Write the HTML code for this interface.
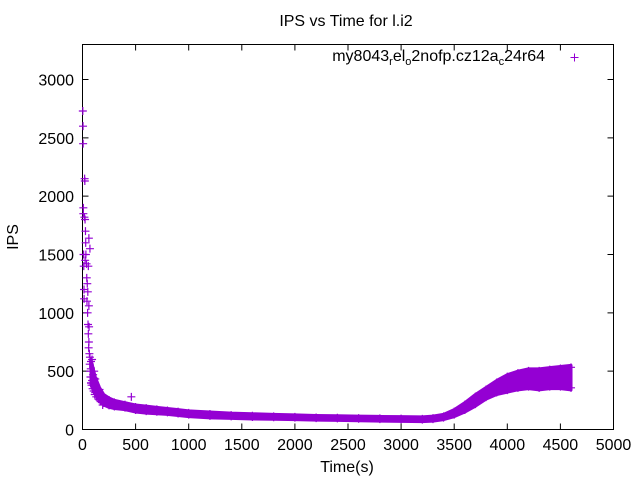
<!DOCTYPE html>
<html><head><meta charset="utf-8"><style>
body{margin:0;background:#fff}
svg{display:block;font-family:"Liberation Sans",sans-serif}
</style></head><body>
<svg id="chart" width="640" height="480" viewBox="0 0 640 480" xmlns="http://www.w3.org/2000/svg">
<rect width="640" height="480" fill="#fff"/>
<text x="346" y="26" font-size="16" text-anchor="middle">IPS vs Time for l.i2</text>
<rect x="82.5" y="44.5" width="531" height="385" fill="none" stroke="#000" stroke-width="1"/>
<g id="axes"></g>
<g id="band"></g>
<g id="points"></g>
<text x="347" y="472" font-size="16" text-anchor="middle">Time(s)</text>
<text transform="translate(18,237) rotate(-90)" font-size="16" text-anchor="middle">IPS</text>
<g>
<text x="545" y="61" font-size="16" text-anchor="end">my8043<tspan font-size="11" dy="4">r</tspan><tspan dy="-4">el</tspan><tspan font-size="11" dy="4">o</tspan><tspan dy="-4">2nofp.cz12a</tspan><tspan font-size="11" dy="4">c</tspan><tspan dy="-4">24r64</tspan></text>
<path d="M570.5 57.5h8M574.5 53.5v8" stroke="#9400d3" stroke-width="1"/>
</g>
</svg>
<script>
const xTicks=[0,500,1000,1500,2000,2500,3000,3500,4000,4500,5000];
const yTicks=[0,500,1000,1500,2000,2500,3000];
// sparse early scatter points (time, ips)
const earlyT=[3,5,6,8,8,10,12,14,15,18,20,22,24,25,28,30,40,32,45,38,50,42,55,48,60,52,55,58,60,62,65,68,70,72,75,78,80,85,90,95,100,105,110,115,120,130,140,150,160,170,180,190,200,460,90,60,70,110];
const earlyV=[2730,2600,2450,1900,1850,1500,1400,1200,1120,1820,2150,2130,1800,1450,1700,1600,1300,1500,1250,1420,1180,1100,1400,1000,1060,900,820,700,750,880,650,560,620,500,450,520,400,380,420,350,470,330,440,300,380,280,330,260,300,240,280,210,250,280,600,1640,1550,500];
// dense band (time, low, high)
const bandT=[80,120,160,200,250,300,400,500,600,700,800,900,1000,1200,1400,1600,1800,2000,2200,2400,2600,2800,3000,3200,3300,3400,3500,3600,3700,3800,3900,4000,4100,4200,4300,4400,4500,4600];
const bandLo=[380,300,240,210,190,180,170,150,140,135,130,120,110,100,95,90,88,85,80,78,75,72,70,68,72,85,110,150,200,260,300,320,340,350,340,350,350,340];
const bandHi=[600,450,360,300,270,250,230,210,200,190,180,170,160,150,140,135,130,125,120,118,115,112,110,108,115,130,170,230,300,360,420,470,500,520,520,530,540,550];
const X=v=>82.5+v/5000*531, Y=v=>429.5-v/3300*385;
const NS="http://www.w3.org/2000/svg";
const ax=document.getElementById('axes');
function mk(tag,attrs,parent){const e=document.createElementNS(NS,tag);for(const k in attrs)e.setAttribute(k,attrs[k]);parent.appendChild(e);return e;}
xTicks.forEach(t=>{
 const g=mk('g',{},ax);
 
 
 mk('path',{d:`M${X(t)} 429.5v-6M${X(t)} 44.5v6`,stroke:'#000'},g);
 const tx=mk('text',{x:X(t),y:450,'font-size':16,'text-anchor':'middle'},g);tx.textContent=t;
});
yTicks.forEach(t=>{
 const g=mk('g',{},ax);
 
 
 mk('path',{d:`M82.5 ${Y(t)}h6M613.5 ${Y(t)}h-6`,stroke:'#000'},g);
 const tx=mk('text',{x:74,y:Y(t)+6,'font-size':16,'text-anchor':'end'},g);tx.textContent=t;
});
const col='#9400d3';
const band=document.getElementById('band');
let d='M'+bandT.map((t,i)=>X(t)+' '+Y(bandHi[i])).join('L')+'L'+bandT.map((t,i)=>X(t)+' '+Y(bandLo[i])).reverse().join('L')+'Z';
const bp=mk('path',{d:d,fill:col,stroke:col,'stroke-width':3,'stroke-linejoin':'round'},band);


const pts=document.getElementById('points');
function plus(x,y,c){return mk('path',{d:`M${x-4} ${y}h8M${x} ${y-4}v8`,stroke:c,'stroke-width':1.2},pts);}
earlyT.forEach((t,i)=>{
 const p=plus(X(t),Y(earlyV[i]),col);
 
 
});
bandT.forEach((t,i)=>{
 const a=plus(X(t),Y(bandHi[i])+2,col);
 
 
 const b=plus(X(t),Y(bandLo[i])-2,col);
 
 
});
</script>
</body></html>
